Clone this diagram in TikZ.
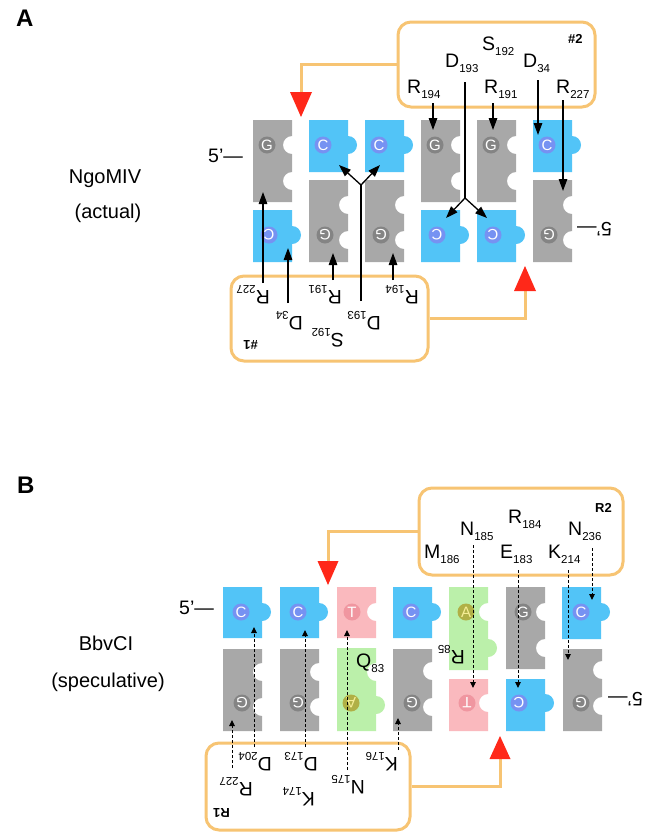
\documentclass[tikz,border=0pt]{standalone}
\usepackage{fontspec}
\setmainfont{Liberation Sans}
\usetikzlibrary{arrows.meta}
\definecolor{ntgray}{RGB}{168,168,168}
\definecolor{ntblue}{RGB}{82,196,247}
\definecolor{ntpink}{RGB}{250,185,190}
\definecolor{ntgreen}{RGB}{187,240,170}
\definecolor{gglow}{RGB}{132,132,132}
\definecolor{cglow}{RGB}{118,146,242}
\definecolor{tglow}{RGB}{240,150,160}
\definecolor{aglow}{RGB}{176,176,70}
\definecolor{aletter}{RGB}{246,238,150}
\definecolor{boxorange}{RGB}{247,196,115}
\definecolor{tipred}{RGB}{255,40,25}

\newcommand{\resub}[1]{\raisebox{-5pt}{\fontsize{11.5}{12}\selectfont #1}}
\newcommand{\bump}[1]{-- (\xr,#1-9) arc[start angle=-90,end angle=90,radius=9]}
\newcommand{\notch}[1]{-- (\xr,#1-9) arc[start angle=-90,end angle=-270,radius=9]}
% name, left, top, bottom, right edge, letter offset, letter y, letter, turn
\newcommand{\nuc}[9]{%
  \pgfmathsetmacro{\xr}{#2+39}
  \fill[piece#8] (#2,#3) -- (\xr,#3) #5 -- (\xr,#4) -- (#2,#4) -- cycle;
  \node[dot#8, rotate=#9] (#1) at (#2+#6,#7) {#8};}

% one NgoMIV monomer (box, residues, contacts, cut site)
\newcommand{\ngoside}[2]{%
  \node[enzbox, minimum width=197, minimum height=85] (box#1) at (496.5,64.5) {};
  \node[tag] (tag#1) at (568,43) {\##2};
  \node[res] (S192#1) at (482,50) {S\resub{192}};
  \node[res] (D193#1) at (445,67) {D\resub{193}};
  \node[res] (D34#1) at (523,67) {D\resub{34}};
  \node[res] (R194#1) at (407,93) {R\resub{194}};
  \node[res] (R191#1) at (484,93) {R\resub{191}};
  \node[res] (R227#1) at (556,93) {R\resub{227}};
  \coordinate (c194#1) at (433,103); \coordinate (h194#1) at (433,130);
  \coordinate (c191#1) at (493,103); \coordinate (h191#1) at (493,130);
  \coordinate (c34#1) at (538,80);   \coordinate (h34#1) at (538,135);
  \coordinate (c227#1) at (563,100); \coordinate (h227#1) at (563,191);
  \coordinate (c193#1) at (465,82);  \coordinate (y193#1) at (465,198);
  \coordinate (l193#1) at (446,218); \coordinate (r193#1) at (487,218);
  \draw[arr] (c194#1) -- (h194#1);
  \draw[arr] (c191#1) -- (h191#1);
  \draw[arr] (c34#1) -- (h34#1);
  \draw[arr] (c227#1) -- (h227#1);
  \draw[line width=1.3pt] (c193#1) -- (y193#1);
  \draw[arr] (y193#1) -- (l193#1);
  \draw[arr] (y193#1) -- (r193#1);
  \coordinate (cut#1) at (301,92);
  \draw[enzlink] (box#1.west) -| (cut#1);
  \fill[redtip] (290,92) -- (312,92) -- (301,117) -- cycle;}

\begin{document}
\begin{tikzpicture}[
  x=1pt, y=-1pt,
  font=\fontsize{19.5}{21}\selectfont,
  res/.style={anchor=base west, inner sep=0pt},
  tag/.style={anchor=base west, inner sep=0pt, font=\fontsize{13}{14}\selectfont\bfseries},
  panel/.style={anchor=base west, inner sep=0pt, font=\fontsize{24}{26}\selectfont\bfseries},
  enzyme/.style={anchor=base, inner sep=0pt, font=\fontsize{20}{22}\selectfont},
  arr/.style={-{Triangle[length=12pt,width=8.5pt]}, line width=1.3pt},
  darr/.style={-{Triangle[length=6pt,width=5.5pt]}, line width=1pt, dash pattern=on 3pt off 2pt},
  enzbox/.style={draw=boxorange, line width=3pt, rounded corners=13pt, fill=white, inner sep=0pt},
  enzlink/.style={draw=boxorange, line width=3pt},
  redtip/.style={fill=tipred},
  pieceG/.style={fill=ntgray},
  pieceC/.style={fill=ntblue},
  pieceT/.style={fill=ntpink},
  pieceA/.style={fill=ntgreen},
  nucdot/.style={circle, inner sep=0pt, minimum size=17pt, text=white, font=\fontsize{15}{15}\selectfont},
  dotG/.style={nucdot, fill=gglow},
  dotC/.style={nucdot, fill=cglow},
  dotT/.style={nucdot, fill=tglow},
  dotA/.style={nucdot, fill=aglow, text=aletter}
]
\path[use as bounding box, fill=white] (0,0) rectangle (645,833);

% ---------------- A ----------------
\node[panel] (pA) at (16,26) {A};
\node[enzyme] (ngo) at (105,183) {NgoMIV};
\node[enzyme] (ngoa) at (108,218) {(actual)};
\node[res] (fiveAt) at (208,162) {5’—};
\node[res, rotate=180] (fiveAb) at (612,222) {5’—};

\nuc{At1}{253}{120}{202}{\notch{145}\notch{181}}{14}{145}{G}{0}
\nuc{At2}{309}{120}{172}{\bump{145}}{14}{145}{C}{0}
\nuc{At3}{365}{120}{172}{\bump{145}}{14}{145}{C}{0}
\nuc{At4}{421}{120}{202}{\notch{145}\notch{181}}{14}{145}{G}{0}
\nuc{At5}{477}{120}{202}{\notch{145}\notch{181}}{14}{145}{G}{0}
\nuc{At6}{533}{120}{172}{\bump{145}}{14}{145}{C}{0}
\nuc{Ab1}{253}{210}{262}{\bump{235}}{16}{235}{C}{180}
\nuc{Ab2}{309}{180}{262}{\notch{205}\notch{240}}{16}{235}{G}{180}
\nuc{Ab3}{365}{180}{262}{\notch{205}\notch{240}}{16}{235}{G}{180}
\nuc{Ab4}{421}{210}{262}{\bump{235}}{16}{235}{C}{180}
\nuc{Ab5}{477}{210}{262}{\bump{235}}{16}{235}{C}{180}
\nuc{Ab6}{533}{180}{262}{\notch{205}\notch{240}}{16}{235}{G}{180}

\ngoside{t}{2}
\begin{scope}[rotate around={180:(413,191.5)}, transform shape]
  \ngoside{b}{1}
\end{scope}

% ---------------- B ----------------
\node[panel] (pB) at (17,493) {B};
\node[enzyme] (bbv) at (106,650) {BbvCI};
\node[enzyme] (bbvs) at (108,687) {(speculative)};
\node[res] (fiveBt) at (179,614) {5’—};
\node[res, rotate=180] (fiveBb) at (643,692) {5’—};

\nuc{Bt1}{223}{587}{638}{\bump{612}}{18}{612}{C}{0}
\nuc{Bt2}{280}{587}{638}{\bump{612}}{18}{612}{C}{0}
\nuc{Bt3}{337}{587}{638}{\notch{612}}{15}{612}{T}{0}
\nuc{Bt4}{393}{587}{638}{\bump{612}}{18}{612}{C}{0}
\nuc{Bt5}{449}{587}{670}{\notch{612}\bump{648}}{17}{612}{A}{0}
\nuc{Bt6}{506}{587}{669}{\notch{612}\notch{648}}{17}{612}{G}{0}
\nuc{Bt7}{562}{587}{639}{\bump{612}}{19}{612}{C}{0}
\nuc{Bb1}{223}{649}{731}{\notch{672}\notch{707}}{19}{703}{G}{180}
\nuc{Bb2}{280}{649}{731}{\notch{672}\notch{707}}{18}{703}{G}{180}
\nuc{Bb3}{337}{648}{731}{\notch{672}\bump{705}}{14}{703}{A}{180}
\nuc{Bb4}{393}{649}{731}{\notch{671}\notch{707}}{19}{703}{G}{180}
\nuc{Bb5}{449}{679}{731}{\notch{703}}{18}{703}{T}{180}
\nuc{Bb6}{506}{679}{731}{\bump{703}}{13}{703}{C}{180}
\nuc{Bb7}{563}{649}{731}{\notch{670}\notch{706}}{18}{703}{G}{180}

% R2 subunit
\node[enzbox, minimum width=204, minimum height=87] (boxR2) at (521,531.5) {};
\node[tag] (tagR2) at (595,512) {R2};
\node[res] (R184) at (508,523) {R\resub{184}};
\node[res] (N185) at (460,535) {N\resub{185}};
\node[res] (N236) at (568,535) {N\resub{236}};
\node[res] (M186) at (424,558) {M\resub{186}};
\node[res] (E183) at (500,558) {E\resub{183}};
\node[res] (K214) at (548,558) {K\resub{214}};
\node[res] (Q83) at (356,667) {Q\resub{83}};
\coordinate (cutR2) at (328,561);
\draw[enzlink] (boxR2.west) -| (cutR2);
\fill[redtip] (317.5,561) -- (338.5,561) -- (328,585) -- cycle;

% R1 subunit
\node[enzbox, minimum width=204, minimum height=87] (boxR1) at (308,786.5) {};
\node[tag, rotate=180] (tagR1) at (230,808) {R1};
\node[res, rotate=180] (D204) at (272,757) {D\resub{204}};
\node[res, rotate=180] (bR227) at (253,782) {R\resub{227}};
\node[res, rotate=180] (D173) at (318,757) {D\resub{173}};
\node[res, rotate=180] (K174) at (315,792) {K\resub{174}};
\node[res, rotate=180] (N175) at (365,780) {N\resub{175}};
\node[res, rotate=180] (K176) at (398,757) {K\resub{176}};
\node[res, rotate=180] (R85) at (465,650) {R\resub{85}};
\coordinate (cutR1) at (500,759);
\draw[enzlink] (boxR1.east) -| (cutR1);
\fill[redtip] (489.5,759) -- (510.5,759) -- (500,736) -- cycle;

% dashed contacts
\coordinate (cN185) at (473,545); \coordinate (hN185) at (473,688);
\coordinate (cE183) at (518,570); \coordinate (hE183) at (518,688);
\coordinate (cK214) at (568,570); \coordinate (hK214) at (568,660);
\coordinate (cN236) at (592,548); \coordinate (hN236) at (592,600);
\coordinate (cR227) at (232,768); \coordinate (hR227) at (232,720);
\coordinate (cD204) at (254,747); \coordinate (hD204) at (254,627);
\coordinate (cD173) at (305,747); \coordinate (hD173) at (305,630);
\coordinate (cN175) at (347,770); \coordinate (hN175) at (347,630);
\coordinate (cK176) at (398,750); \coordinate (hK176) at (398,718);
\foreach \r in {N185,E183,K214,N236,R227,D204,D173,N175,K176}
  \draw[darr] (c\r) -- (h\r);

\end{tikzpicture}
\end{document}
